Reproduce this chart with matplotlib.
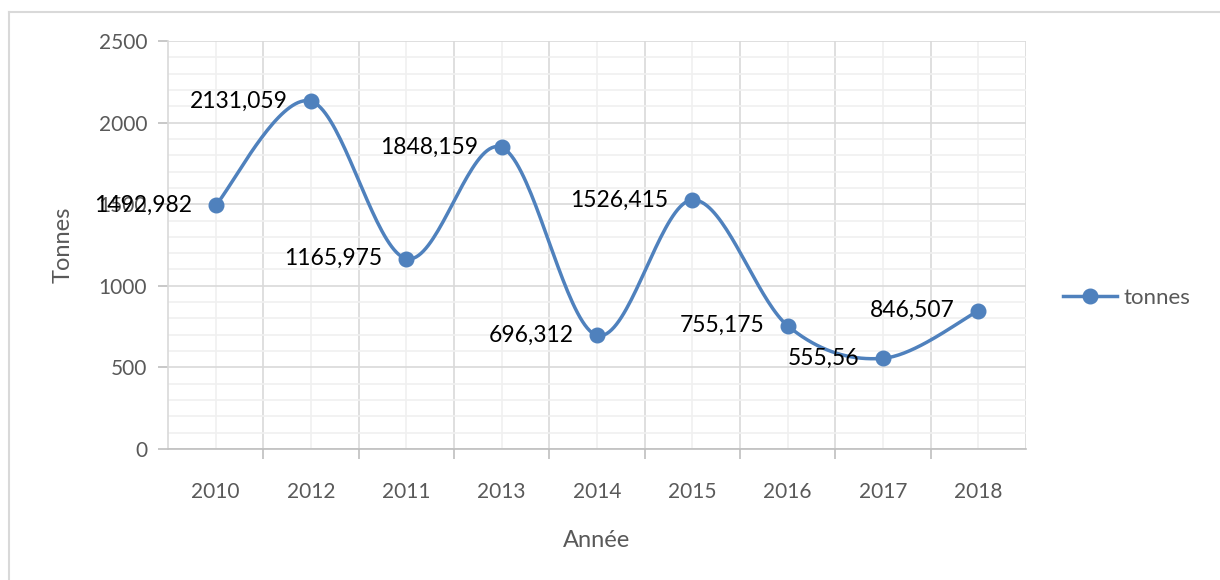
import numpy as np
import matplotlib.pyplot as plt
from matplotlib.lines import Line2D
from matplotlib.ticker import MultipleLocator, FixedLocator

plt.rcParams['font.family'] = ['Lato', 'DejaVu Sans']

annees = ['2010', '2012', '2011', '2013', '2014', '2015', '2016', '2017', '2018']
tonnes = [1492.982, 2131.059, 1165.975, 1848.159, 696.312, 1526.415, 755.175, 555.56, 846.507]
etiquettes = ['1492,982', '2131,059', '1165,975', '1848,159', '696,312',
              '1526,415', '755,175', '555,56', '846,507']

bleu = '#4f81bd'
gris_txt = '#595959'


def lisse(x, y, n=40):
    # courbe lissee facon Excel (Bezier / Catmull-Rom)
    x = np.asarray(x, float)
    y = np.asarray(y, float)
    px = np.concatenate([[x[0]], x, [x[-1]]])
    py = np.concatenate([[y[0]], y, [y[-1]]])
    t = np.linspace(0, 1, n)
    xs, ys = [], []
    for i in range(1, len(px) - 2):
        p0 = np.array([px[i], py[i]])
        p3 = np.array([px[i + 1], py[i + 1]])
        c1 = p0 + (np.array([px[i + 1], py[i + 1]]) - np.array([px[i - 1], py[i - 1]])) / 6
        c2 = p3 - (np.array([px[i + 2], py[i + 2]]) - np.array([px[i], py[i]])) / 6
        b = ((1 - t) ** 3)[:, None] * p0 + (3 * (1 - t) ** 2 * t)[:, None] * c1 \
            + (3 * (1 - t) * t ** 2)[:, None] * c2 + (t ** 3)[:, None] * p3
        xs.append(b[:, 0])
        ys.append(b[:, 1])
    return np.concatenate(xs), np.concatenate(ys)


fig = plt.figure(figsize=(12.2, 5.8), dpi=100)
ax = fig.add_axes([0.1377, 0.2259, 0.7033, 0.7034])

idx = np.arange(len(annees))
sx, sy = lisse(idx, tonnes)
ax.plot(sx, sy, color=bleu, lw=2.5, solid_capstyle='round', zorder=3)
ax.plot(idx, tonnes, 'o', color=bleu, ms=10.5, zorder=4)
ax.plot([], [], '-o', color=bleu, lw=2.5, ms=10.5, label='tonnes')

for i, (v, lab) in enumerate(zip(tonnes, etiquettes)):
    ax.annotate(lab, (i, v), xytext=(-17, 0), textcoords='offset points',
                ha='right', va='center', fontsize=16.5, color='black', zorder=5)

ax.set_xlim(-0.5, len(annees) - 0.5)
ax.set_ylim(0, 2500)

ax.set_xticks(idx)
ax.set_xticklabels(annees)
ax.xaxis.set_minor_locator(FixedLocator(idx[:-1] + 0.5))
ax.yaxis.set_major_locator(MultipleLocator(500))
ax.yaxis.set_minor_locator(MultipleLocator(100))

ax.tick_params(axis='x', which='major', length=0, pad=24, labelsize=15, labelcolor=gris_txt)
ax.tick_params(axis='x', which='minor', length=7, width=1.2, color='#bfbfbf')
ax.tick_params(axis='y', which='major', length=7, width=1.2, color='#bfbfbf',
               pad=8, labelsize=15, labelcolor=gris_txt)
ax.tick_params(axis='y', which='minor', length=0)

ax.grid(True, axis='y', which='major', color='#d9d9d9', lw=1.2)
ax.grid(True, axis='y', which='minor', color='#f0f0f0', lw=1.2)
ax.grid(True, axis='x', which='minor', color='#d9d9d9', lw=1.2)
ax.grid(True, axis='x', which='major', color='#f0f0f0', lw=1.2)
ax.set_axisbelow(True)

for s in ['top', 'right']:
    ax.spines[s].set_visible(False)
ax.spines['left'].set_color('#d9d9d9')
ax.spines['left'].set_linewidth(1.2)
ax.spines['bottom'].set_color('#bfbfbf')
ax.spines['bottom'].set_linewidth(1.2)
ax.axvline(len(annees) - 0.5, color='#d9d9d9', lw=1.2, zorder=0)

ax.set_xlabel('Année', fontsize=17, color=gris_txt, labelpad=20)
ax.set_ylabel('Tonnes', fontsize=17, color=gris_txt, labelpad=18)

ax.legend(loc='center left', bbox_to_anchor=(1.02, 0.37), frameon=False,
          fontsize=16, labelcolor=gris_txt, handlelength=2.4, handletextpad=0.3)

# cadre du graphique
fig.add_artist(Line2D([9 / 1220, 1.0], [1 - 12 / 580, 1 - 12 / 580], color='#d9d9d9', lw=1.5))
fig.add_artist(Line2D([9 / 1220, 9 / 1220], [0.0, 1 - 12 / 580], color='#d9d9d9', lw=1.5))

fig.savefig('out.png', dpi=100)
